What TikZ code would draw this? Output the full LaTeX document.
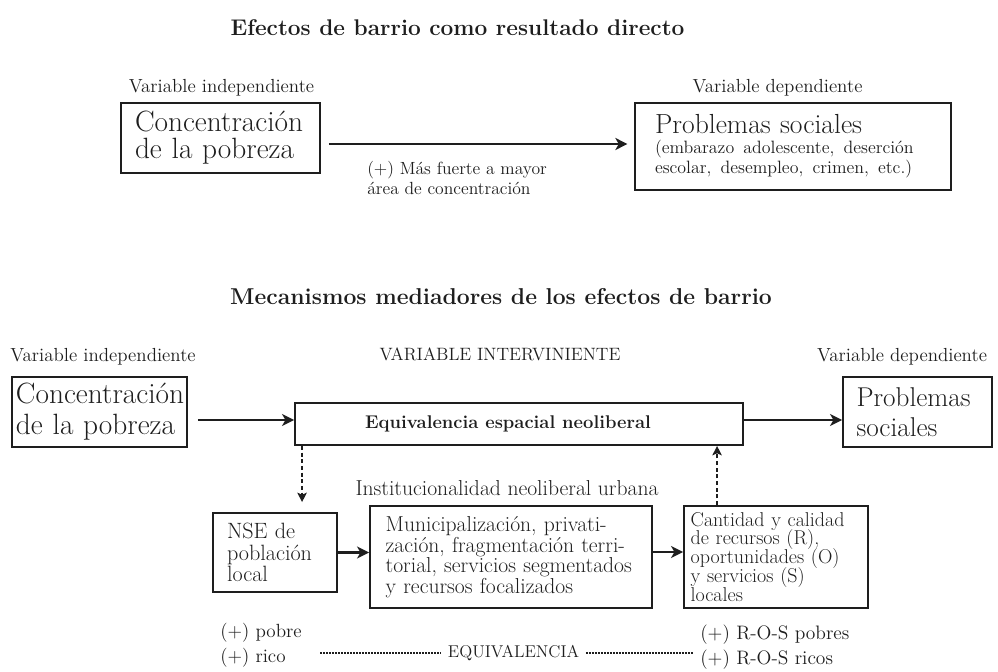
\documentclass[tikz,border=0pt]{standalone}
\usepackage{fontspec}
\usetikzlibrary{arrows.meta,calc}
\definecolor{ink}{HTML}{1E1E1E}
\begin{document}
\begin{tikzpicture}[x=0.75pt,y=-0.75pt,
  box/.style={draw=ink,line width=1.4pt,inner ysep=0pt,align=left,text=ink},
  arr/.style={draw=ink,line width=2.1pt,-{Stealth[length=9pt,width=9pt,inset=2.5pt]}},
  darr/.style={draw=ink,line width=1.5pt,dash pattern=on 3pt off 2pt,-{Stealth[length=7pt,width=7pt,inset=1.5pt]}},
  eqd/.style={draw=ink,line width=0.8pt,dash pattern=on 1.5pt off 0.75pt},
  lbl/.style={text=ink,inner sep=0pt},
  small/.style={font=\fontsize{14.2}{15}\selectfont},
  ttl/.style={font=\fontsize{17}{18}\selectfont\bfseries},
]
\fill[white] (0,0) rectangle (998,671);
\useasboundingbox (0,0) rectangle (998,671);

% ---------- top diagram ----------
\node[lbl,ttl] (title1) at (457.5,28) {Efectos de barrio como resultado directo};

\node[lbl,small] (vi1) at (221.5,88) {Variable independiente};
\node[lbl,small] (vd1) at (777.5,88) {Variable dependiente};

\node[box,minimum width=149.25pt,minimum height=52.5pt,text width=128.25pt,inner xsep=10.5pt,
      font=\fontsize{22}{20.25}\selectfont] (t1) at (220.5,138) {Concentración\\de la pobreza};

\node[box,minimum width=237pt,minimum height=65.25pt,text width=207pt,inner xsep=15pt,
      font=\fontsize{20.7}{15}\selectfont] (t2) at (793,146.5)
  {Problemas sociales\\{\fontsize{13.4}{15}\selectfont (embarazo adolescente, deserción\\escolar, desempleo, crimen, etc.)}};

\coordinate (a1s) at ($(t1.east)+(6pt,-4.5pt)$);
\draw[arr,shorten >=5pt] (a1s) -- (a1s -| t2.west);

\node[lbl,align=left,anchor=west,font=\fontsize{13.2}{15}\selectfont] (lab) at (367,178)
  {(+) Más fuerte a mayor\\área de concentración};

% ---------- bottom diagram ----------
\node[lbl,font=\fontsize{17.2}{18}\selectfont\bfseries] (title2) at (501,297) {Mecanismos mediadores de los efectos de barrio};

\node[lbl,font=\fontsize{13.4}{15}\selectfont] (vint) at (500,354) {VARIABLE INTERVINIENTE};
\node[lbl,small] (vi2) at (103,357) {Variable independiente};
\node[lbl,small] (vd2) at (902,357) {Variable dependiente};

\node[box,minimum width=131.25pt,minimum height=52.5pt,text width=125.25pt,inner xsep=3pt,
      font=\fontsize{22}{23.25}\selectfont] (bA) at (99.5,412) {Concentración\\de la pobreza};

\node[box,align=center,minimum width=336pt,minimum height=31.5pt,
      font=\fontsize{13.8}{15}\selectfont\bfseries] (bE) at (519,424)
  {\hspace*{-16.5pt}Equivalencia espacial neoliberal};

\node[box,minimum width=111.75pt,minimum height=52.5pt,text width=91.5pt,inner xsep=10.1pt,
      font=\fontsize{20.4}{22.5}\selectfont] (bP) at (917.5,412) {Problemas\\sociales};

\coordinate (a2s) at ($(bA.east)+(7.5pt,-6pt)$);
\draw[arr] (a2s) -- (a2s -| bE.west);
\coordinate (a3s) at ($(bE.east)+(0,3pt)$);
\draw[arr] (a3s) -- (a3s -| bP.west);

\node[lbl,font=\fontsize{16.2}{17}\selectfont] (inst) at (507,488) {Institucionalidad neoliberal urbana};

\node[box,minimum width=93pt,minimum height=59.25pt,text width=72pt,inner xsep=10.5pt,
      font=\fontsize{16.6}{16}\selectfont] (nse) at (275,552.5) {NSE de\\población\\local};

\node[box,minimum width=211.5pt,minimum height=76.5pt,text width=188pt,inner xsep=11.75pt,
      font=\fontsize{16.2}{15.5}\selectfont] (muni) at (511,557)
  {Municipalización, privati-\\zación, fragmentación terri-\\torial, servicios segmentados\\y recursos focalizados};

\node[box,minimum width=138pt,minimum height=76.5pt,text width=128pt,inner xsep=5pt,
      font=\fontsize{15}{14.2}\selectfont] (cant) at (776,557)
  {\lineskiplimit=-20pt\relax Cantidad y calidad\\de recursos (R),\\oportunidades (O)\\y servicios (S)\\locales};

\coordinate (d1s) at ($(bE.south west)+(6pt,0)$);
\draw[darr,shorten >=7.5pt] (d1s) -- (d1s |- nse.north);
\coordinate (d2s) at ($(cant.north west)+(25.5pt,0)$);
\draw[darr] (d2s) -- (d2s |- bE.south);

\draw[arr] (nse.east) -- (nse.east -| muni.west);
\coordinate (a5s) at ($(muni.east)+(0,3.75pt)$);
\draw[arr] (a5s) -- (a5s -| cant.west);

\node[lbl,align=left,anchor=west,font=\fontsize{14.3}{18.75}\selectfont] (pr) at (220,645.5) {(+) pobre\\(+) rico};
\node[lbl,align=left,anchor=west,font=\fontsize{14.6}{18.75}\selectfont] (ros) at (700,647.5) {(+) R-O-S pobres\\(+) R-O-S ricos};
\node[lbl,inner xsep=5pt,font=\fontsize{12.8}{14}\selectfont] (eq) at (513.5,653) {EQUIVALENCIA};
\coordinate (e1) at (320,653);
\coordinate (e2) at (693,653);
\draw[eqd] (e1) -- (eq.west);
\draw[eqd] (eq.east) -- (e2);
\end{tikzpicture}
\end{document}
